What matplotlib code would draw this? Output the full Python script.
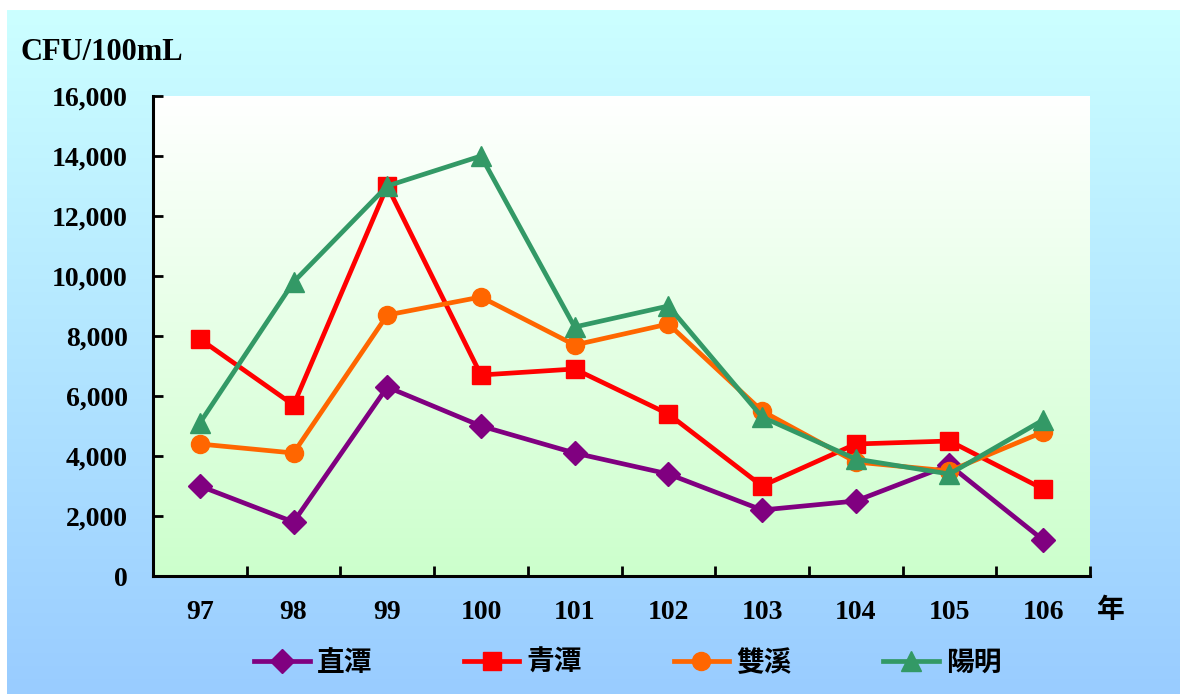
import matplotlib
matplotlib.use("Agg")
import matplotlib.pyplot as plt
import numpy as np
from matplotlib.colors import LinearSegmentedColormap
from matplotlib.ticker import FuncFormatter, FixedLocator

years = ["97", "98", "99", "100", "101", "102", "103", "104", "105", "106"]
zhitan = [3000, 1800, 6300, 5000, 4100, 3400, 2200, 2500, 3700, 1200]
qingtan = [7900, 5700, 13000, 6700, 6900, 5400, 3000, 4400, 4500, 2900]
shuangxi = [4400, 4100, 8700, 9300, 7700, 8400, 5500, 3800, 3500, 4800]
yangming = [5100, 9800, 13000, 14000, 8300, 9000, 5300, 3900, 3400, 5200]
series_names = ["直潭", "青潭", "雙溪", "陽明"]

W, H = 1180, 694
fig = plt.figure(figsize=(W / 100, H / 100), dpi=100)
fig.patch.set_facecolor("white")

# figure background gradient
bg = fig.add_axes([7 / W, 0, 1 - 7 / W, 1 - 10 / H], zorder=-10)
bg.axis("off")
cm_bg = LinearSegmentedColormap.from_list("bg", ["#CCFFFF", "#99CCFF"])
bg.imshow(np.linspace(0, 1, 256).reshape(-1, 1), aspect="auto", cmap=cm_bg,
          extent=[0, 1, 0, 1], origin="upper")
bg.set_xlim(0, 1); bg.set_ylim(0, 1)

left, right, top, bottom = 153, 1090, 96, 576
ax = fig.add_axes([left / W, 1 - bottom / H, (right - left) / W, (bottom - top) / H])
ax.set_facecolor("none")
cm_pl = LinearSegmentedColormap.from_list("pl", ["#FFFFFF", "#CCFFCC"])
ax.imshow(np.linspace(0, 1, 256).reshape(-1, 1), aspect="auto", cmap=cm_pl,
          extent=[0, 1, 0, 1], origin="upper", transform=ax.transAxes, zorder=0)

x = np.arange(len(years))
styles = [
    (zhitan, "#800080", "D", 12),
    (qingtan, "#FF0000", "s", 13),
    (shuangxi, "#FF6600", "o", 13),
    (yangming, "#339966", "^", 15),
]
for (vals, c, m, ms), name in zip(styles, series_names):
    ax.plot(x, vals, color=c, lw=3.4, marker=m, markersize=ms, label=name,
            zorder=3, clip_on=False)

ax.set_xlim(-0.5, len(years) - 0.5)
ax.set_ylim(0, 16000)
ax.set_yticks(np.arange(0, 16001, 2000))
ax.yaxis.set_major_formatter(FuncFormatter(lambda v, p: f"{int(v):,}"))
ax.set_xticks(x)
ax.set_xticklabels(years)
ax.xaxis.set_minor_locator(FixedLocator(np.arange(-0.5, len(years), 1.0)))

for s in ["top", "right"]:
    ax.spines[s].set_visible(False)
for s in ["left", "bottom"]:
    ax.spines[s].set_linewidth(2.2)
    ax.spines[s].set_color("black")

ax.tick_params(axis="y", direction="in", length=7, width=2, pad=18)
ax.tick_params(axis="x", which="major", length=0, pad=17)
ax.tick_params(axis="x", which="minor", direction="in", length=7, width=2)
for lab in ax.get_xticklabels() + ax.get_yticklabels():
    lab.set_fontfamily("Liberation Serif")
    lab.set_fontweight("bold")
    lab.set_fontsize(20)

fig.text(20 / W, 1 - 52 / H, "CFU/100mL", ha="left", va="center",
         family="Liberation Serif", weight="bold", size=22)
fig.text(1111 / W, 1 - 610 / H, "年", ha="center", va="center",
         family=["Noto Sans CJK TC", "DejaVu Sans"], weight="bold", size=20)

leg = fig.legend(loc="center", bbox_to_anchor=(0.532, 1 - 663 / H), ncol=4,
                 frameon=False, handlelength=2.0, handletextpad=0.25,
                 columnspacing=3.3,
                 prop={"family": ["Noto Sans CJK TC", "DejaVu Sans"], "weight": "bold", "size": 20})

fig.savefig("out.png", dpi=100)
